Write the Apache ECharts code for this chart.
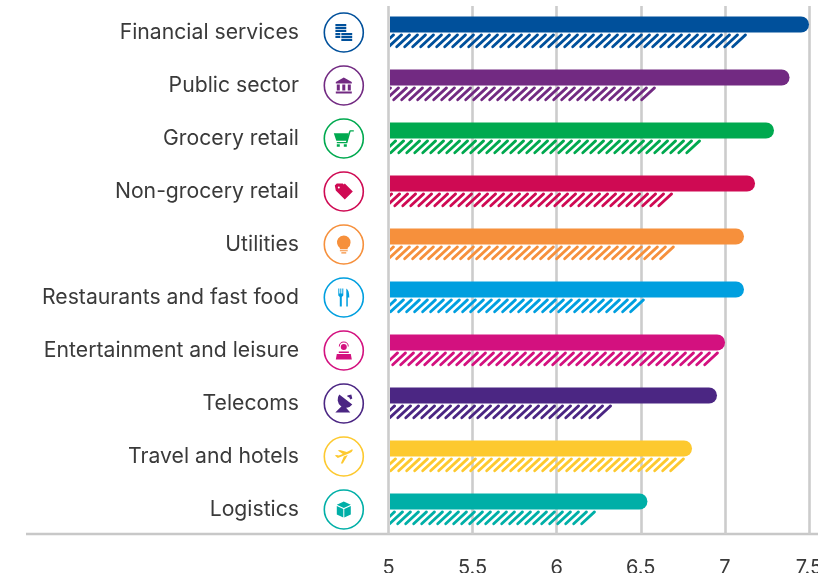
<!DOCTYPE html>
<html>
<head>
<meta charset="utf-8">
<style>
html, body { margin: 0; padding: 0; background: #fff; }
#chart { width: 818px; height: 573px; }
</style>
<script src="https://cdn.jsdelivr.net/npm/echarts@6/dist/echarts.min.js"></script>
</head>
<body>
<div id="chart"></div>
<script>
var categories = ['Financial services', 'Public sector', 'Grocery retail', 'Non-grocery retail', 'Utilities',
    'Restaurants and fast food', 'Entertainment and leisure', 'Telecoms', 'Travel and hotels', 'Logistics'];
var solidValues = [7.5, 7.384, 7.291, 7.178, 7.112, 7.112, 6.999, 6.951, 6.802, 6.536];
var hatchedValues = [7.13, 6.587, 6.856, 6.689, 6.70, 6.521, 6.963, 6.325, 6.76, 6.229];
var colors = ['#00509b', '#722a82', '#00a94f', '#cf0a53', '#f6903c', '#009fdf', '#d3117f', '#4b2683', '#fdc92f', '#00afa7'];
var xTicks = [5, 5.5, 6, 6.5, 7, 7.5];

// icon glyphs, one per category, each scaled to fit iconSizes
var iconPaths = [
    // coins
    'M0 0h11v2.200H0zM0 3h11v2.200H0zM0 6h11v2.200H0zM0 9h5v2.200H0zM0 12h5v2.200H0zM6 9h11v2.200H6zM6 12h11v2.200H6zM6 15h11v2.200H6z',
    // bank
    'M8 0L16 4.500V6H0V4.500zM1 7h3v6H1zM6.500 7h3v6h-3zM12 7h3v6h-3zM0 14h16v2H0z',
    // cart
    'M0 3h14.500l-1.500 7.500H2.500zM15 2l1-2h4v1.200h-3.200L13.500 13H3v-1.200h9.200zM3 14h3v2.500H3zM10 14h3v2.500h-3z',
    // tag with a hole
    'M0 2L2 0h6l9 9-7 7-9-9zM4 3a1 1 0 1 0 .01 0zM10 0l8 8-1 1-8-8z',
    // bulb
    'M7 0a7 7 0 0 1 4 12.700V14H3v-1.300A7 7 0 0 1 7 0zM3 15h8v1H3zM4.500 17h5v1.400h-5z',
    // cutlery
    'M0 0h1v5h1V0h1v5h1V0h1v7L3.500 8.500V18H1.500V8.500L0 7zM8 0c2 1 3 4 3 9H9.500v9H8z',
    // entertainment
    'M8 2.500a3 3 0 1 1-.01 0zM3 5a5 5 0 0 1 10 0h-1a4 4 0 0 0-8 0zM3 10h10v1.500H3zM1 12.500h14l1 5.500H0z',
    // satellite dish
    'M4 0L17 10A8 8 0 0 1 4 0zM12 1l4-1 1 4-2 1-1-2-2-1zM7 11l4 2.500 4 4.500H0z',
    // plane
    'M18 1C18 3 16 4 14 5L3 9.500 0 7 2 6.500 4 7 8 5.500 3 2 5 1.500 12 3.500 15 2C16 1 17.500.500 18 1zM9 8L13 6.500 8 15H6z',
    // box
    'M7 0l7 3.200-7 3.200-7-3.200zM0 4.500l6.500 3V16L0 13zM14 4.500l-6.500 3V16l6.500-3z'
];
var iconSizes = [17, 16, 20, 18, 18, 18, 18, 18, 18, 16];

function renderSolid(params, api) {
    var i = api.value(1);
    var start = api.coord([5, i]);
    var end = api.coord([api.value(0), i]);
    return {
        type: 'rect',
        shape: { x: start[0], y: start[1] - 16, width: end[0] - start[0], height: 16, r: [0, 8, 8, 0] },
        style: { fill: colors[i] }
    };
}

// slanted round-ended strokes, the last one stops with its tip on the value
function renderHatched(params, api) {
    var i = api.value(1);
    var start = api.coord([5, i]);
    var end = api.coord([api.value(0), i]);
    var top = start[1] + 2.4, bottom = start[1] + 14.2;
    var slant = bottom - top + 1, period = 8;
    var stripes = [];
    for (var x = end[0] - 1.5; x > start[0]; x -= period) {
        stripes.push({
            type: 'line',
            shape: { x1: x - slant, y1: bottom, x2: x, y2: top },
            style: { stroke: colors[i], lineWidth: 2.8, lineCap: 'round' }
        });
    }
    return {
        type: 'group',
        clipPath: { type: 'rect', shape: { x: start[0], y: top - 3, width: end[0] - start[0] + 3, height: bottom - top + 6 } },
        children: stripes
    };
}

function renderIcon(params, api) {
    var i = api.value(1);
    var pos = api.coord([api.value(0), i]);
    var size = iconSizes[i];
    return {
        type: 'group',
        x: pos[0] - 46.2,
        y: pos[1],
        children: [{
            type: 'circle',
            shape: { cx: 0, cy: 0, r: 19.5 },
            style: { fill: '#fff', stroke: colors[i], lineWidth: 1.6 }
        }, {
            type: 'path',
            shape: { pathData: iconPaths[i], x: -size / 2, y: -size / 2, width: size, height: size, layout: 'center' },
            style: { fill: colors[i] }
        }]
    };
}

var Chart = echarts.init(document.getElementById('chart'), null, { renderer: 'canvas' });

var option = {
    animation: false,
    backgroundColor: '#ffffff',
    textStyle: { fontFamily: 'Inter' },
    grid: [
        { left: 390, right: 9, top: 6, height: 530, outerBoundsMode: 'none' },
        { left: 388.5, right: 9, top: 6, height: 528, outerBoundsMode: 'none' }
    ],
    xAxis: [{
        gridIndex: 0, type: 'value', min: 5, max: 7.5, show: false
    }, {
        gridIndex: 1, type: 'value', min: 5, max: 7.5, interval: 0.5,
        axisLine: { show: false },
        axisTick: { show: false },
        splitLine: { show: true, lineStyle: { color: '#cccccc', width: 2.6 } },
        axisLabel: {
            margin: 24, fontSize: 20, color: '#3a3a3a',
            showMinLabel: true, showMaxLabel: true, hideOverlap: false,
            customValues: xTicks
        }
    }],
    yAxis: [{
        gridIndex: 0, type: 'category', inverse: true, data: categories,
        axisLine: { show: false },
        axisTick: { show: false },
        axisLabel: { margin: 91, fontSize: 21.2, color: '#3a3a3a', align: 'right', padding: [2, 0, 0, 0] }
    }, {
        gridIndex: 1, type: 'value', show: false
    }],
    graphic: [{
        type: 'line',
        shape: { x1: 26, y1: 534, x2: 818, y2: 534 },
        style: { stroke: '#c8c8c8', lineWidth: 2.6 },
        silent: true
    }],
    series: [{
        name: 'solid',
        type: 'custom',
        xAxisIndex: 0,
        yAxisIndex: 0,
        clip: false,
        renderItem: renderSolid,
        encode: { x: 0, y: 1 },
        data: solidValues.map(function (v, i) { return [v, i]; })
    }, {
        name: 'hatched',
        type: 'custom',
        xAxisIndex: 0,
        yAxisIndex: 0,
        clip: false,
        renderItem: renderHatched,
        encode: { x: 0, y: 1 },
        data: hatchedValues.map(function (v, i) { return [v, i]; })
    }, {
        name: 'icons',
        type: 'custom',
        xAxisIndex: 0,
        yAxisIndex: 0,
        clip: false,
        renderItem: renderIcon,
        encode: { x: 0, y: 1 },
        data: categories.map(function (c, i) { return [5, i]; })
    }]
};

Chart.setOption(option);
</script>
</body>
</html>
